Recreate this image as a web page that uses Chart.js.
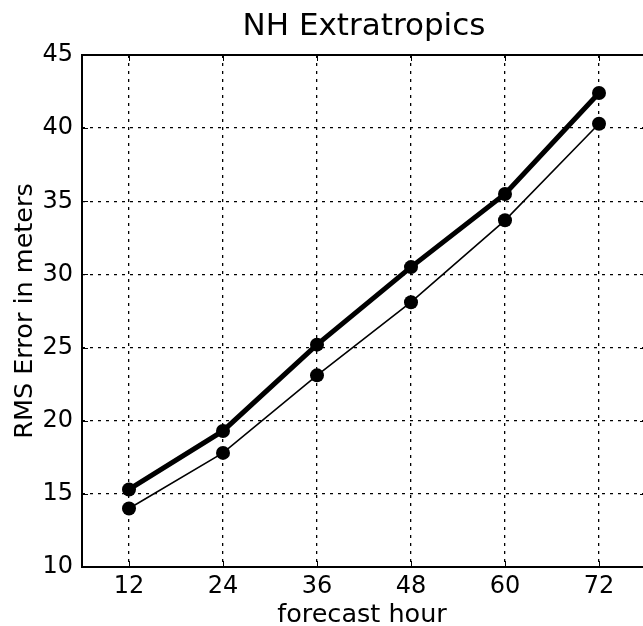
<!DOCTYPE html>
<html>
<head>
<meta charset="utf-8">
<script src="https://cdn.jsdelivr.net/npm/chart.js@4/dist/chart.umd.min.js"></script>
<style>
  html, body { margin: 0; padding: 0; background: #fff; overflow: hidden; }
  #wrap { width: 660px; height: 626px; }
</style>
</head>
<body>
<div id="wrap"><canvas id="c" width="660" height="626"></canvas></div>
<script>
const titleText = "NH Extratropics";
const xLabel = "forecast hour";
const yLabel = "RMS Error in meters";
const hours = [12, 24, 36, 48, 60, 72];
const thickSeries = [15.3, 19.3, 25.2, 30.5, 35.5, 42.4];
const thinSeries = [14.0, 17.8, 23.1, 28.1, 33.7, 40.3];
const yTicks = [10, 15, 20, 25, 30, 35, 40, 45];

const FONT = "'DejaVu Sans', sans-serif";

const decor = {
  id: 'decor',
  afterDraw(chart) {
    const { ctx, chartArea: a, scales } = chart;
    const cx = (a.left + a.right) / 2;
    const cy = (a.top + a.bottom) / 2;
    ctx.save();
    // inward tick marks
    ctx.strokeStyle = '#000';
    ctx.lineWidth = 1;
    ctx.setLineDash([]);
    const tl = 6;
    hours.forEach(h => {
      const x = Math.round(scales.x.getPixelForValue(h)) + 0.5;
      ctx.beginPath();
      ctx.moveTo(x, a.bottom); ctx.lineTo(x, a.bottom - tl);
      ctx.moveTo(x, a.top); ctx.lineTo(x, a.top + tl);
      ctx.stroke();
    });
    yTicks.forEach(v => {
      const y = Math.round(scales.y.getPixelForValue(v)) + 0.5;
      ctx.beginPath();
      ctx.moveTo(a.left, y); ctx.lineTo(a.left + tl, y);
      ctx.moveTo(a.right, y); ctx.lineTo(a.right - tl, y);
      ctx.stroke();
    });
    // frame
    ctx.lineWidth = 2;
    ctx.strokeRect(a.left, a.top, a.right - a.left, a.bottom - a.top);
    // texts
    ctx.fillStyle = '#000';
    ctx.textAlign = 'center';
    ctx.textBaseline = 'alphabetic';
    ctx.font = "31px " + FONT;
    ctx.fillText(titleText, cx, 35);
    ctx.font = "25.5px " + FONT;
    ctx.fillText(xLabel, cx - 2, 622);
    ctx.translate(32, cy);
    ctx.rotate(-Math.PI / 2);
    ctx.font = "25.5px " + FONT;
    ctx.fillText(yLabel, 0, 0);
    ctx.restore();
  }
};

new Chart(document.getElementById('c'), {
  type: 'line',
  data: {
    datasets: [
      {
        data: hours.map((h, i) => ({ x: h, y: thickSeries[i] })),
        borderColor: '#000', backgroundColor: '#000',
        borderWidth: 5, pointRadius: 7, pointBorderWidth: 0,
        pointBackgroundColor: '#000', tension: 0, clip: false
      },
      {
        data: hours.map((h, i) => ({ x: h, y: thinSeries[i] })),
        borderColor: '#000', backgroundColor: '#000',
        borderWidth: 1.6, pointRadius: 7, pointBorderWidth: 0,
        pointBackgroundColor: '#000', tension: 0, clip: false
      }
    ]
  },
  options: {
    responsive: false,
    animation: false,
    events: [],
    layout: { padding: { top: 55, right: 14, left: 0, bottom: 0 } },
    plugins: { legend: { display: false }, title: { display: false }, tooltip: { enabled: false } },
    scales: {
      x: {
        type: 'linear', min: 6, max: 78,
        afterBuildTicks: s => { s.ticks = hours.map(v => ({ value: v })); },
        afterFit: s => { s.height = 59; },
        ticks: { color: '#000', font: { family: FONT, size: 24 }, padding: 5, maxRotation: 0, autoSkip: false },
        grid: { color: '#000', lineWidth: 1.3, drawTicks: false },
        border: { display: false, dash: [3, 5] }
      },
      y: {
        min: 10, max: 45,
        afterBuildTicks: s => { s.ticks = yTicks.map(v => ({ value: v })); },
        afterFit: s => { s.width = 82; },
        ticks: { color: '#000', font: { family: FONT, size: 24 }, padding: 9 },
        grid: { color: '#000', lineWidth: 1.3, drawTicks: false },
        border: { display: false, dash: [3, 5] }
      }
    }
  },
  plugins: [decor]
});
</script>
</body>
</html>
